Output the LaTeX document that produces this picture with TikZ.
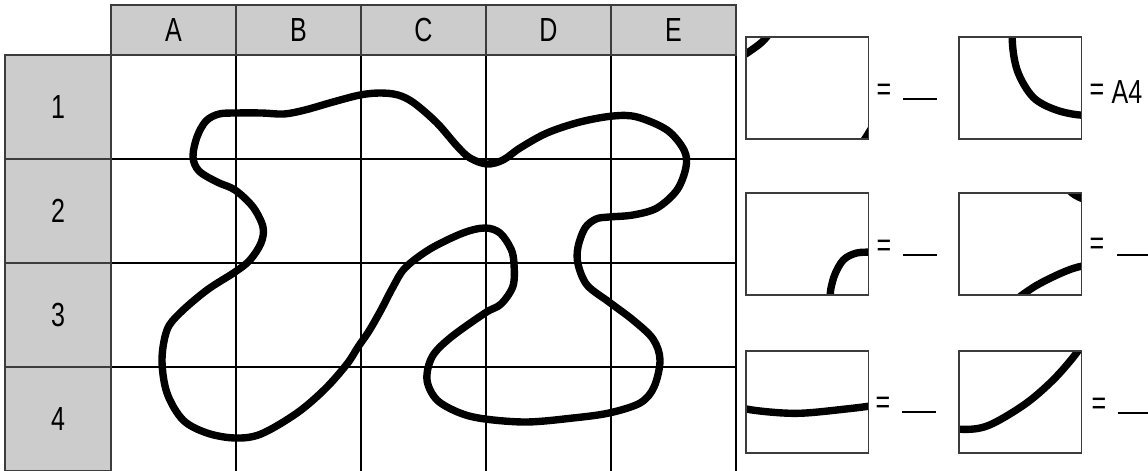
\documentclass[tikz,border=0pt]{standalone}
\usepackage{fontspec}
\setmainfont{Liberation Sans}[FakeStretch=0.75]
\usepackage{tikz}
\definecolor{headgray}{RGB}{204, 204, 204}
\definecolor{edgegray}{RGB}{60, 60, 60}
\newcommand{\labelfont}{\fontsize{19}{22}\selectfont}
\tikzset{
  colhead/.style={
    draw=edgegray,
    fill=headgray,
    line width=0.9pt,
    minimum width=2.5cm,
    minimum height=1cm,
    inner sep=0pt,
    font=\labelfont
  },
  rowhead/.style={
    draw=edgegray,
    fill=headgray,
    line width=0.9pt,
    minimum width=2.12cm,
    minimum height=2.08cm,
    inner sep=0pt,
    font=\labelfont
  },
  gridline/.style={
    draw=black,
    line width=0.75pt
  },
  blob/.style={
    draw=black,
    line width=4.2pt,
    line join=round
  },
  zoombox/.style={
    draw=edgegray,
    line width=0.9pt
  },
  eqlabel/.style={
    inner sep=0pt,
    font=\labelfont
  },
  blanklabel/.style={
    inner sep=0pt
  },
  blobline/.pic={
    \draw[blob] plot[smooth cycle, tension=0.55] coordinates {
      (193,157) (197,137) (206,121) (219,114) (236,113) (262,113) (284,114)
      (305,110) (333,102) (360,95) (380,93) (398,95) (414,103) (437,123)
      (457,146) (470,158) (487,164) (503,160) (520,148) (547,133) (580,122)
      (613,116) (637,117) (667,130) (684,150) (686,167) (677,190) (657,208)
      (633,215) (609,217) (596,219) (585,228) (578,247) (578,264) (587,285)
      (609,302) (633,320) (653,339) (660,360) (654,387) (640,403) (609,413)
      (573,418) (527,422) (485,419) (460,413) (437,400) (427,380) (432,357)
      (450,338) (485,313) (501,304) (513,286) (514,264) (511,249) (500,233)
      (485,228) (463,233) (430,249) (405,268) (393,287) (381,310) (369,331)
      (358,347) (347,364) (325,389) (297,413) (261,434) (235,438) (207,433)
      (183,420) (167,393) (162,360) (167,330) (180,313) (207,290) (235,272)
      (250,260) (261,243) (263,227) (253,207) (235,190) (217,182) (199,171)
    };
  }
}

\begin{document}
\begin{tikzpicture}[x=0.02cm, y=-0.02cm]
  \useasboundingbox (0,0) rectangle (1148,470);

  % cell grid
  \foreach \gx in {236,361,486,611,736}
    \draw[gridline] (\gx,55) -- (\gx,472);
  \foreach \gy in {159,263,367}
    \draw[gridline] (111,\gy) -- (736,\gy);

  % headers
  \node[colhead] (colA) at (173.5,30) {A};
  \node[colhead] (colB) at (298.5,30) {B};
  \node[colhead] (colC) at (423.5,30) {C};
  \node[colhead] (colD) at (548.5,30) {D};
  \node[colhead] (colE) at (673.5,30) {E};
  \node[rowhead] (row1) at (58,107) {1};
  \node[rowhead] (row2) at (58,211) {2};
  \node[rowhead] (row3) at (58,315) {3};
  \node[rowhead] (row4) at (58,419) {4};

  % the closed curve
  \pic {blobline};

  % enlarged cells: B3, A4 / A1, C2 / D4, B4
  \begin{scope}[shift={(746,37)}, scale=0.98, shift={(-236,-263)}]
    \clip (236,263) rectangle ++(125,104);
    \pic {blobline};
  \end{scope}
  \begin{scope}[shift={(959,37)}, scale=0.98, shift={(-111,-367)}]
    \clip (111,367) rectangle ++(125,104);
    \pic {blobline};
  \end{scope}
  \begin{scope}[shift={(746,193)}, scale=0.98, shift={(-111,-55)}]
    \clip (111,55) rectangle ++(125,104);
    \pic {blobline};
  \end{scope}
  \begin{scope}[shift={(959,193)}, scale=0.98, shift={(-361,-159)}]
    \clip (361,159) rectangle ++(125,104);
    \pic {blobline};
  \end{scope}
  \begin{scope}[shift={(746,351)}, scale=0.98, shift={(-486,-367)}]
    \clip (486,367) rectangle ++(125,104);
    \pic {blobline};
  \end{scope}
  \begin{scope}[shift={(959,351)}, scale=0.98, shift={(-236,-367)}]
    \clip (236,367) rectangle ++(125,104);
    \pic {blobline};
  \end{scope}

  \draw[zoombox] (746,37) rectangle ++(122.5,102);
  \draw[zoombox] (959,37) rectangle ++(122.5,102);
  \draw[zoombox] (746,193) rectangle ++(122.5,102);
  \draw[zoombox] (959,193) rectangle ++(122.5,102);
  \draw[zoombox] (746,351) rectangle ++(122.5,102);
  \draw[zoombox] (959,351) rectangle ++(122.5,102);

  % answers
  \node[eqlabel] (eqB3) at (884,92) {=};
  \node[blanklabel] (ansB3) at (920,99) {\rule{0.68cm}{0.8pt}};
  \node[eqlabel] (eqA4) at (1097,92) {=};
  \node[eqlabel] (ansA4) at (1127,92) {A4};
  \node[eqlabel] (eqA1) at (884,248) {=};
  \node[blanklabel] (ansA1) at (920,255) {\rule{0.68cm}{0.8pt}};
  \node[eqlabel] (eqC2) at (1097,246) {=};
  \node[blanklabel] (ansC2) at (1134,255) {\rule{0.68cm}{0.8pt}};
  \node[eqlabel] (eqD4) at (883,405) {=};
  \node[blanklabel] (ansD4) at (919,412) {\rule{0.68cm}{0.8pt}};
  \node[eqlabel] (eqB4) at (1099,406) {=};
  \node[blanklabel] (ansB4) at (1135,413) {\rule{0.68cm}{0.8pt}};
\end{tikzpicture}
\end{document}
